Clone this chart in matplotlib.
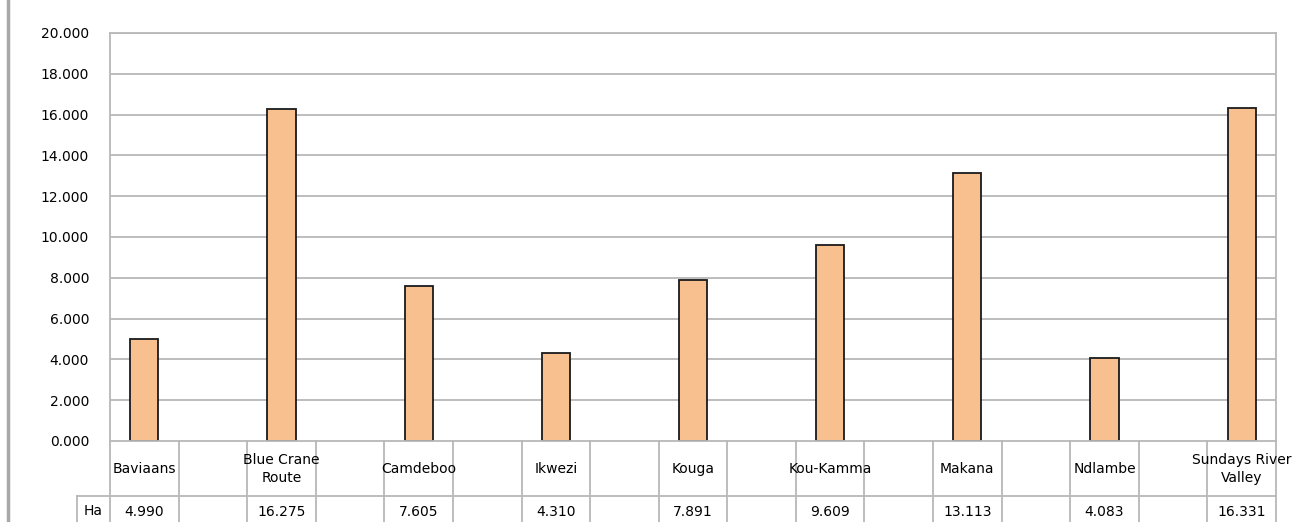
import matplotlib
matplotlib.use("Agg")
import matplotlib.pyplot as plt
from matplotlib.transforms import blended_transform_factory
from matplotlib.lines import Line2D

# ---- data ----
categories = ["Baviaans", "Blue Crane\nRoute", "Camdeboo", "Ikwezi", "Kouga",
              "Kou-Kamma", "Makana", "Ndlambe", "Sundays River\nValley"]
hectares = [4990, 16275, 7605, 4310, 7891, 9609, 13113, 4083, 16331]
row_label = "Ha"
yticks = [0, 2000, 4000, 6000, 8000, 10000, 12000, 14000, 16000, 18000, 20000]

W, H = 1297, 522
fig = plt.figure(figsize=(W / 100, H / 100), dpi=100)
plt.rcParams['font.family'] = ['DejaVu Sans']

# plot area in pixels
x0, x1 = 110, 1276
ytop, ybot = 33, 441
ax = fig.add_axes([x0 / W, (H - ybot) / H, (x1 - x0) / W, (ybot - ytop) / H])

ncols = 2 * len(categories) - 1
positions = [2 * i for i in range(len(categories))]
grid_c = "#B8B8B8"

ax.set_xlim(-0.5, ncols - 0.5)
ax.set_ylim(0, 20000)
for y in yticks[1:]:
    ax.axhline(y, color=grid_c, lw=1.3, zorder=1)
ax.bar(positions, hectares, width=0.41, color="#F9C08F", edgecolor="#1a1a1a",
       linewidth=1.3, zorder=3)

ax.set_yticks(yticks)
ax.set_yticklabels([f"{v / 1000:.3f}" for v in yticks], fontsize=10)
ax.tick_params(axis="y", length=0, pad=22)
for lbl in ax.get_yticklabels():
    lbl.set_x(lbl.get_position()[0])
ax.tick_params(axis="y", pad=15)
ax.set_xticks([])
for s in ["left", "top", "right"]:
    ax.spines[s].set_color(grid_c)
    ax.spines[s].set_linewidth(1.3)
ax.spines["bottom"].set_visible(False)

# ---- data table under the axis ----
tr = blended_transform_factory(ax.transData, fig.transFigure)
def fy(py):
    return (H - py) / H

row1_top, row2_top, table_bot = 441, 496, 530
left_data = -0.5
right_data = ncols - 0.5
ha_left_data = left_data - (110 - 77) / ((x1 - x0) / ncols)

def line(xs, ys):
    fig.add_artist(Line2D(xs, ys, transform=tr, color=grid_c, lw=1.3, clip_on=False))

line([left_data, right_data], [fy(row1_top), fy(row1_top)])
line([ha_left_data, right_data], [fy(row2_top), fy(row2_top)])
for k in range(ncols + 1):
    xb = k - 0.5
    line([xb, xb], [fy(row1_top), fy(table_bot)])
line([ha_left_data, ha_left_data], [fy(row2_top), fy(table_bot)])

for p, name, v in zip(positions, categories, hectares):
    fig.text(p, fy(469), name, transform=tr, ha="center", va="center",
             fontsize=10, linespacing=1.35)
    fig.text(p, fy(512), f"{v:,}".replace(",", "."), transform=tr,
             ha="center", va="center", fontsize=10)
fig.text((ha_left_data + left_data) / 2, fy(511), row_label, transform=tr,
         ha="center", va="center", fontsize=10)

# left grey border of the chart frame
fig.add_artist(Line2D([8 / W, 8 / W], [0, 1], transform=fig.transFigure,
                      color="#A8A8A8", lw=2.5))

fig.savefig("out.png", dpi=100)
